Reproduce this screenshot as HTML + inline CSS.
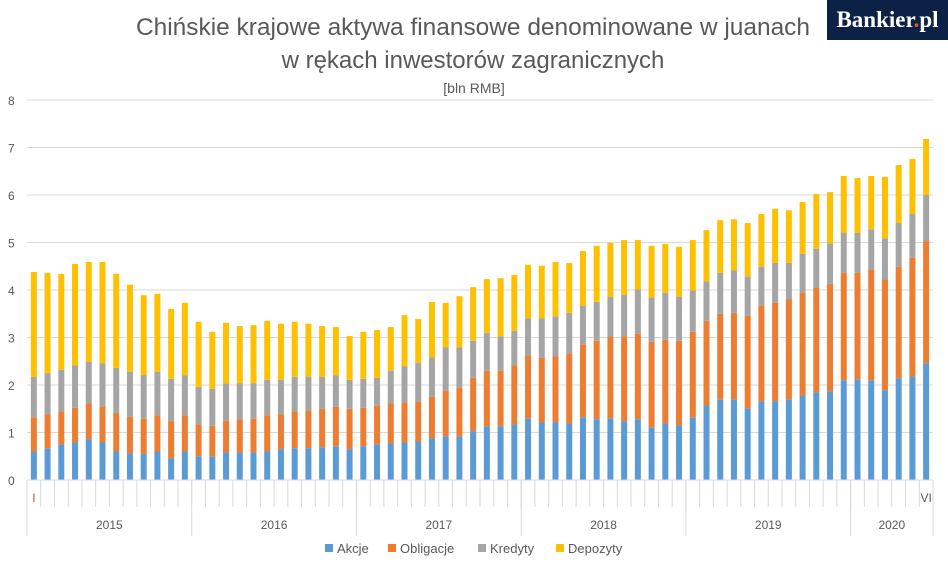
<!DOCTYPE html>
<html><head><meta charset="utf-8">
<style>
body{margin:0;background:#fff;width:948px;height:572px;overflow:hidden;font-family:"Liberation Sans",sans-serif;}
#logo{position:absolute;left:827px;top:0;width:121px;height:40px;background:#0b2145;color:#fff;font-family:"Liberation Serif",serif;font-weight:bold;font-size:23px;line-height:40px;text-align:center;}
#logo span{color:#e8542a;}
</style></head><body>
<svg id="chart" width="948" height="572" style="position:absolute;left:0;top:0" xmlns="http://www.w3.org/2000/svg">
<text x="473" y="35" text-anchor="middle" font-size="24" fill="#595959" textLength="674" lengthAdjust="spacingAndGlyphs">Chińskie krajowe aktywa finansowe denominowane w juanach</text>
<text x="473" y="68" text-anchor="middle" font-size="24" fill="#595959">w rękach inwestorów zagranicznych</text>
<text x="474" y="93" text-anchor="middle" font-size="14" fill="#595959">[bln RMB]</text>
<g id="grid"></g><g id="bars"></g><g id="xaxis"></g><g id="legend"></g>
</svg>
<div id="logo">Bankier<span>.</span>pl</div>
<script>
const years=["2015","2016","2017","2018","2019","2020"];
const monthsPerYear=[12,12,12,12,12,6];
const yTicks=[0,1,2,3,4,5,6,7,8];
const seriesNames=["Akcje","Obligacje","Kredyty","Depozyty"];
const akcje=[.60,.67,.75,.79,.86,.79,.60,.56,.55,.60,.46,.60,.50,.50,.58,.58,.58,.60,.65,.67,.67,.69,.71,.65,.71,.75,.77,.79,.81,.88,.92,.92,1.03,1.13,1.13,1.17,1.30,1.21,1.21,1.19,1.32,1.28,1.30,1.24,1.28,1.11,1.19,1.15,1.32,1.57,1.70,1.70,1.51,1.66,1.66,1.70,1.78,1.85,1.87,2.10,2.12,2.10,1.89,2.14,2.18,2.46];
const obligacje=[.72,.71,.69,.73,.75,.76,.80,.77,.74,.76,.78,.76,.67,.64,.67,.70,.71,.76,.73,.77,.79,.81,.83,.85,.81,.81,.84,.84,.84,.87,.96,1.02,1.12,1.17,1.17,1.24,1.32,1.36,1.39,1.47,1.53,1.65,1.72,1.78,1.80,1.80,1.76,1.78,1.80,1.78,1.80,1.82,1.95,2.01,2.07,2.10,2.16,2.20,2.26,2.26,2.24,2.33,2.33,2.35,2.50,2.57];
const kredyty=[.85,.87,.88,.89,.88,.91,.96,.95,.92,.92,.89,.84,.79,.78,.78,.76,.75,.75,.73,.73,.71,.67,.66,.61,.61,.59,.69,.76,.82,.83,.91,.85,.78,.80,.72,.73,.78,.83,.84,.86,.82,.82,.84,.88,.93,.93,.99,.93,.87,.83,.86,.89,.82,.82,.84,.77,.82,.82,.85,.84,.84,.85,.87,.92,.92,.97];
const depozyty=[2.21,2.11,2.02,2.14,2.10,2.13,1.98,1.83,1.68,1.64,1.47,1.53,1.37,1.20,1.28,1.20,1.22,1.24,1.18,1.16,1.12,1.07,1.02,.92,.99,1.01,.92,1.08,.92,1.17,.94,1.08,1.13,1.13,1.23,1.18,1.13,1.11,1.15,1.05,1.15,1.18,1.13,1.15,1.04,1.09,1.03,1.05,1.06,1.08,1.11,1.08,1.13,1.11,1.14,1.11,1.09,1.15,1.08,1.20,1.16,1.12,1.29,1.22,1.16,1.18];
const colors=["#5b9bd5","#ed7d31","#a5a5a5","#ffc000"];
const NS="http://www.w3.org/2000/svg";
const X0=27,X1=933,Y0=480,PU=47.5;
const n=akcje.length;
const bw=(X1-X0)/n;
function yS(v){return Y0-v*PU;}
function xS(i){return X0+bw*(i+0.5);}
function mk(tag,attrs,parent){const e=document.createElementNS(NS,tag);for(const k in attrs)e.setAttribute(k,attrs[k]);parent.appendChild(e);return e;}
const grid=document.getElementById('grid');
yTicks.forEach(t=>{
  if(t>0){const l=mk('line',{x1:X0,x2:X1,y1:yS(t),y2:yS(t),stroke:'#d9d9d9','stroke-width':1},grid);
  
  }
  const tx=mk('text',{x:8,y:yS(t)+5,'font-size':12,fill:'#595959'},grid);
  tx.textContent=t;
  
  
});
const bars=document.getElementById('bars');
const series=[akcje,obligacje,kredyty,depozyty];
for(let i=0;i<n;i++){
  let cum=0;
  series.forEach((s,k)=>{
    const r=mk('rect',{x:xS(i)-3,width:6,y:yS(cum+s[i]),height:s[i]*PU,fill:colors[k]},bars);
    
    
    cum+=s[i];
  });
}
const xa=document.getElementById('xaxis');
mk('line',{x1:X0,x2:X1,y1:Y0,y2:Y0,stroke:'#d9d9d9'},xa);
for(let i=0;i<=n;i++){
  mk('line',{x1:X0+bw*i,x2:X0+bw*i,y1:Y0,y2:507,stroke:'#d9d9d9'},xa);
}
let m=0;
mk('line',{x1:X0,x2:X0,y1:Y0,y2:536,stroke:'#d9d9d9'},xa);
years.forEach((y,j)=>{
  const start=m;m+=monthsPerYear[j];
  mk('line',{x1:X0+bw*m,x2:X0+bw*m,y1:Y0,y2:536,stroke:'#d9d9d9'},xa);
  const t=mk('text',{x:X0+bw*(start+m)/2,y:529,'text-anchor':'middle','font-size':12,fill:'#595959'},xa);
  t.textContent=y;
  
  
});
const f=mk('text',{x:xS(0),y:502,'text-anchor':'middle','font-size':12,fill:'#a0622a'},xa);
f.textContent='I';


const l2=mk('text',{x:xS(n-1),y:502,'text-anchor':'middle','font-size':12,fill:'#595959'},xa);
l2.textContent='VI';


const lg=document.getElementById('legend');
const lx=[325,388,478,556];
seriesNames.forEach((s,k)=>{
  const g=mk('g',{},lg);
  
  
  mk('rect',{x:lx[k],y:544,width:8,height:8,fill:colors[k]},g);
  const t=mk('text',{x:lx[k]+12,y:553,'font-size':13,fill:'#595959'},g);
  t.textContent=s;
});
</script>
</body></html>
